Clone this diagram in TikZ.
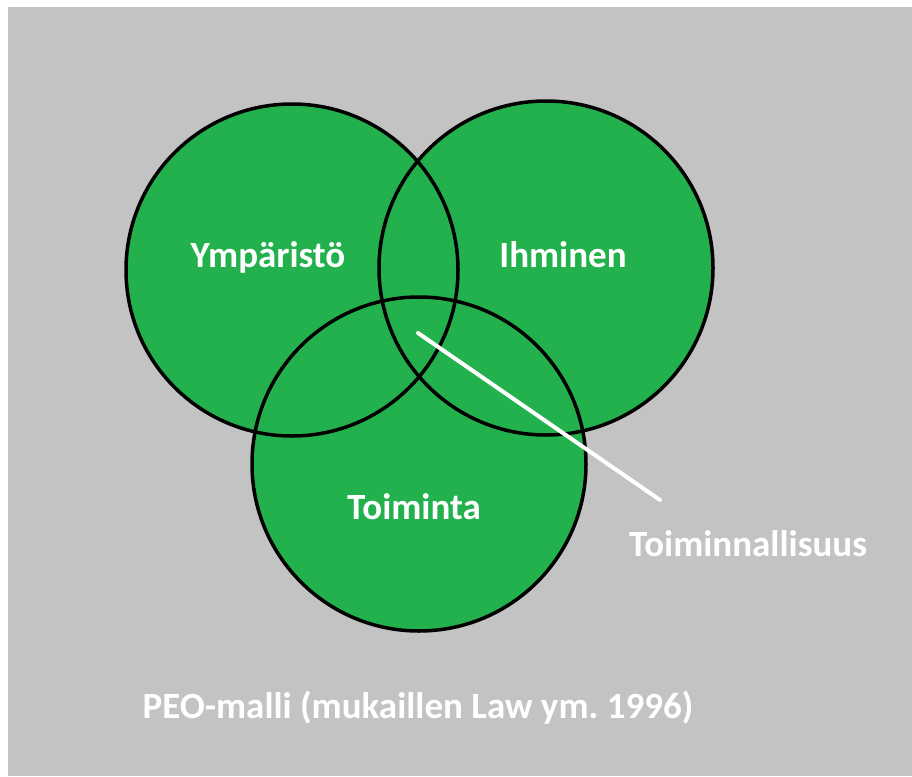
\documentclass[tikz,border=0pt]{standalone}
\usepackage{fontspec}
\setmainfont{Carlito}
\definecolor{peogreen}{RGB}{34,177,76}
\definecolor{peogray}{RGB}{195,195,195}
\frenchspacing
\begin{document}
\begin{tikzpicture}[x=1pt,y=-1pt]
\tikzstyle{venn} = [circle, inner sep=0pt, minimum size=334pt, fill=peogreen]
\tikzstyle{ring} = [line width=3.5pt, draw=black]
\tikzstyle{txt} = [anchor=base, text=white, inner sep=0pt, font=\bfseries\fontsize{37}{44}\selectfont]
\tikzstyle{pointer} = [line width=4pt, white, line cap=round]

%background
\fill[white] (0,0) rectangle (912,776);
\fill[peogray] (8,7) rectangle (912,776);

%circles
\node (ymp) [venn] at (292,270) {};
\node (ihm) [venn] at (546,268) {};
\node (toim) [venn] at (419,464) {};
\draw[ring] (ymp.center) circle[radius=166pt];
\draw[ring] (ihm.center) circle[radius=167pt];
\draw[ring] (toim.center) circle[radius=167pt];

%texts
\node (ymptxt) [txt] at (268,267) {Ympäristö};
\node (ihmtxt) [txt] at (563,267) {Ihminen};
\node (toimtxt) [txt] at (414,519) {Toiminta};
\node (toimall) [txt] at (748,556) {Toiminnallisuus};
\node (caption) [txt] at (418,718) {PEO-malli (mukaillen Law ym. 1996)};

%line
\coordinate (mid) at (418,333);
\coordinate (tip) at (660,500);
\draw[pointer] (mid) -- (tip);
\end{tikzpicture}
\end{document}
